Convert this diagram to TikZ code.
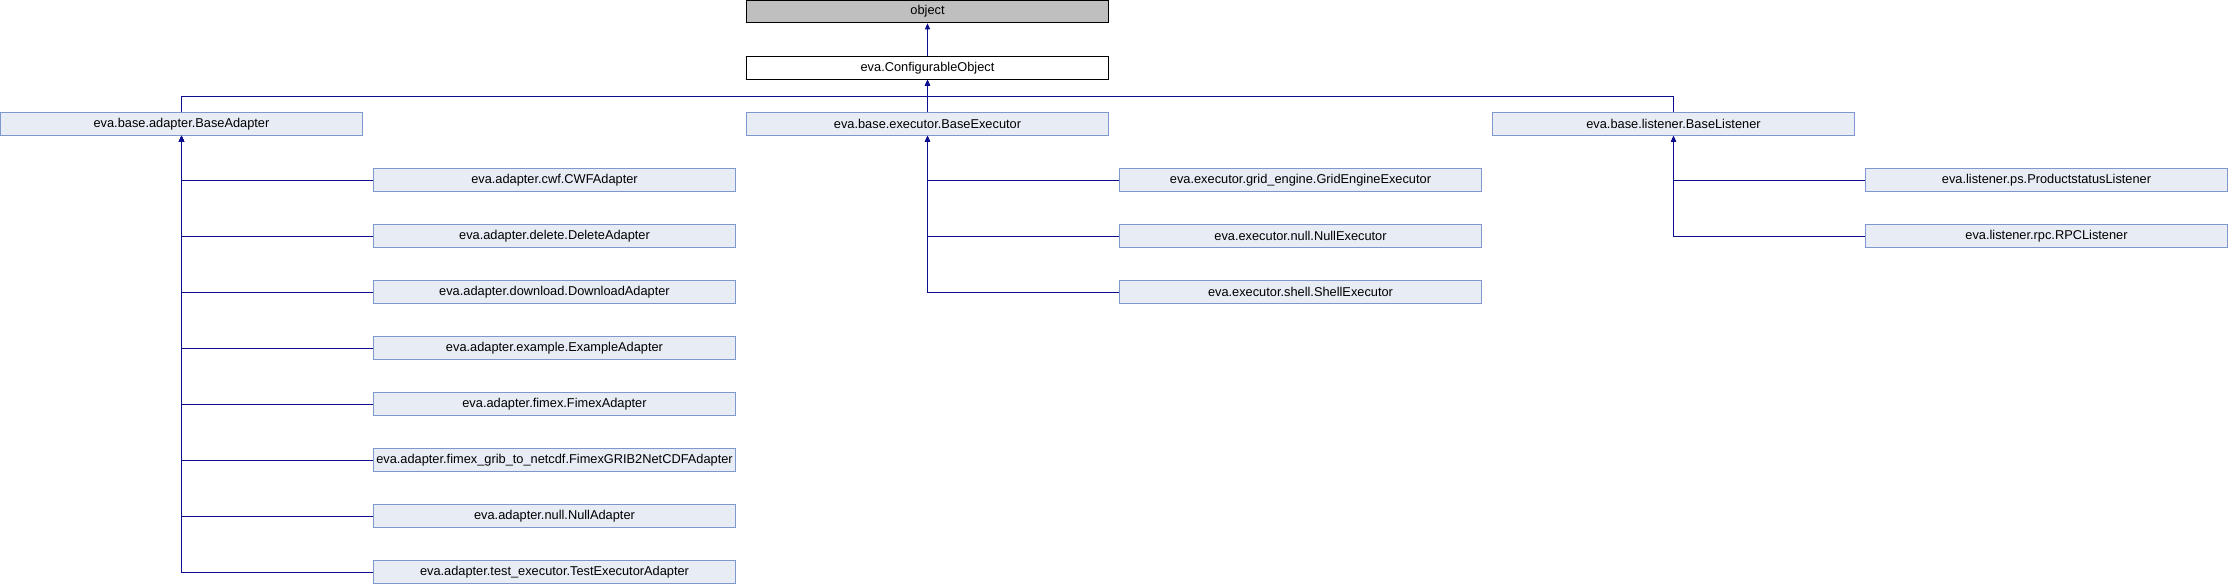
\documentclass[tikz,border=0pt]{standalone}
\usepackage{fontspec}
\setmainfont{Liberation Sans}
\usetikzlibrary{arrows.meta}
\definecolor{boite}{HTML}{E8ECF5}
\definecolor{bord}{HTML}{7E98CE}
\definecolor{lien}{HTML}{0D0D8F}
\begin{document}
\begin{tikzpicture}[x=1pt, y=-1pt,
                  classe/.style={draw=bord, fill=boite, line width=1pt, inner sep=0pt,
                                 minimum width=362pt, minimum height=22.5pt,
                                 font=\fontsize{12.8}{15}\selectfont},
                  herite/.style={draw=lien, line width=1pt, -{Triangle[length=6pt,width=5pt]}}]
\useasboundingbox (0,0) rectangle (2228,584);
\node[classe,draw=black,fill=gray!50] (obj) at (927.5,11.5) {object};
\node[classe,draw=black,fill=white] (conf) at (927.5,68) {eva.ConfigurableObject};
\node[classe] (ada) at (181.5,124) {eva.base.adapter.BaseAdapter};
\node[classe] (exe) at (927.5,124) {eva.base.executor.BaseExecutor};
\node[classe] (lis) at (1673.5,124) {eva.base.listener.BaseListener};
\coordinate (bus) at (927.5,96);
\draw[herite] (conf.north) -- (obj.south);
\draw[herite] (exe.north) -- (conf.south);
\draw[herite] (ada.north) |- (bus) -- (conf.south);
\draw[herite] (lis.north) |- (bus) -- (conf.south);
\foreach \i/\v in {0/cwf.CWFAdapter, 1/delete.DeleteAdapter, 2/download.DownloadAdapter,
                   3/example.ExampleAdapter, 4/fimex.FimexAdapter,
                   5/fimex\_grib\_to\_netcdf.FimexGRIB2NetCDFAdapter,
                   6/null.NullAdapter, 7/test\_executor.TestExecutorAdapter}
  {\node[classe] (a\i) at (554.5,180+56*\i) {eva.adapter.\v};
   \draw[herite] (a\i.west) -| (ada.south);};
\foreach \i/\v in {0/grid\_engine.GridEngineExecutor, 1/null.NullExecutor, 2/shell.ShellExecutor}
  {\node[classe] (e\i) at (1300.5,180+56*\i) {eva.executor.\v};
   \draw[herite] (e\i.west) -| (exe.south);};
\foreach \i/\v in {0/ps.ProductstatusListener, 1/rpc.RPCListener}
  {\node[classe] (l\i) at (2046.5,180+56*\i) {eva.listener.\v};
   \draw[herite] (l\i.west) -| (lis.south);};
\end{tikzpicture}
\end{document}
